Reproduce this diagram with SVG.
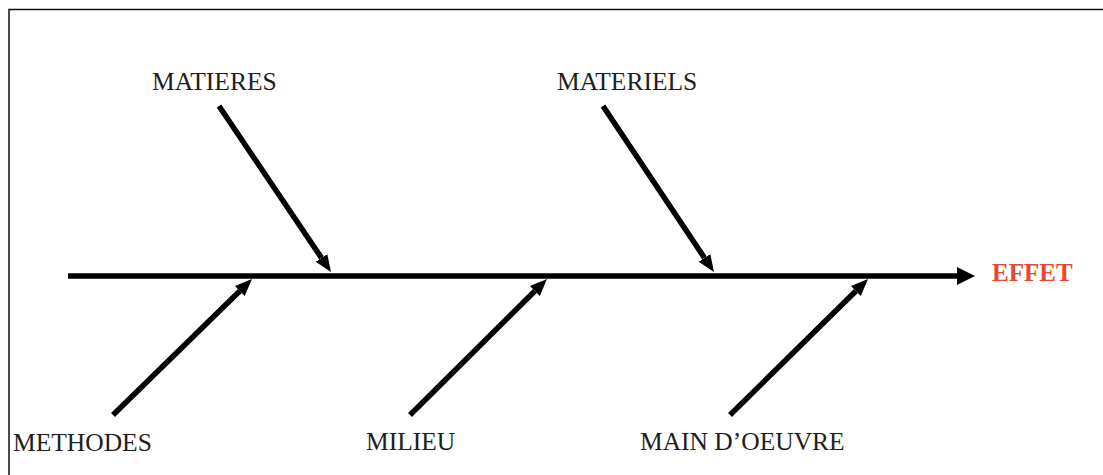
<svg xmlns="http://www.w3.org/2000/svg" width="1103" height="475" viewBox="0 0 1103 475">
<style>
.lbl{font-family:"Liberation Serif","Times New Roman",serif;font-size:25.5px;fill:#1e1e1e}
.eff{font-family:"Liberation Serif","Times New Roman",serif;font-size:25px;font-weight:bold;fill:#e8472f}
.ln{stroke:#000;stroke-width:5.5;fill:none}
.bd{stroke:#111;stroke-width:1.5;fill:none}
</style>
<defs>
<marker id="ah" markerUnits="userSpaceOnUse" viewBox="0 -10 20 20" refX="0" refY="0" markerWidth="20" markerHeight="20" orient="auto">
<path d="M0,-7 L17,0 L0,7 Z" fill="#000"/>
</marker>
<marker id="ahBig" markerUnits="userSpaceOnUse" viewBox="0 -10 20 20" refX="0" refY="0" markerWidth="20" markerHeight="20" orient="auto">
<path d="M0,-9 L18,0 L0,9 Z" fill="#000"/>
</marker>
</defs>
<g id="frame">
<path class="bd" d="M9,475 L9,9.5 L1103,9.5"/>
</g>
<g id="connectors">
<line id="spine" class="ln" x1="68" y1="276" x2="957" y2="276" marker-end="url(#ahBig)"/>
<line class="ln" x1="219" y1="106" x2="321.5" y2="257.9" marker-end="url(#ah)"/>
<line class="ln" x1="603" y1="106" x2="704.5" y2="257.9" marker-end="url(#ah)"/>
<line class="ln" x1="113" y1="415" x2="239.8" y2="291" marker-end="url(#ah)"/>
<line class="ln" x1="410" y1="415" x2="534.9" y2="291" marker-end="url(#ah)"/>
<line class="ln" x1="730" y1="415" x2="855.9" y2="291" marker-end="url(#ah)"/>
</g>
<g id="matieres"><text class="lbl" x="152" y="90">MATIERES</text></g>
<g id="materiels"><text class="lbl" x="557" y="90">MATERIELS</text></g>
<g id="methodes"><text class="lbl" x="13" y="451">METHODES</text></g>
<g id="milieu"><text class="lbl" x="366" y="450">MILIEU</text></g>
<g id="main-oeuvre"><text class="lbl" x="640" y="450">MAIN D’OEUVRE</text></g>
<g id="effet"><text class="eff" x="992" y="281">EFFET</text></g>
</svg>
